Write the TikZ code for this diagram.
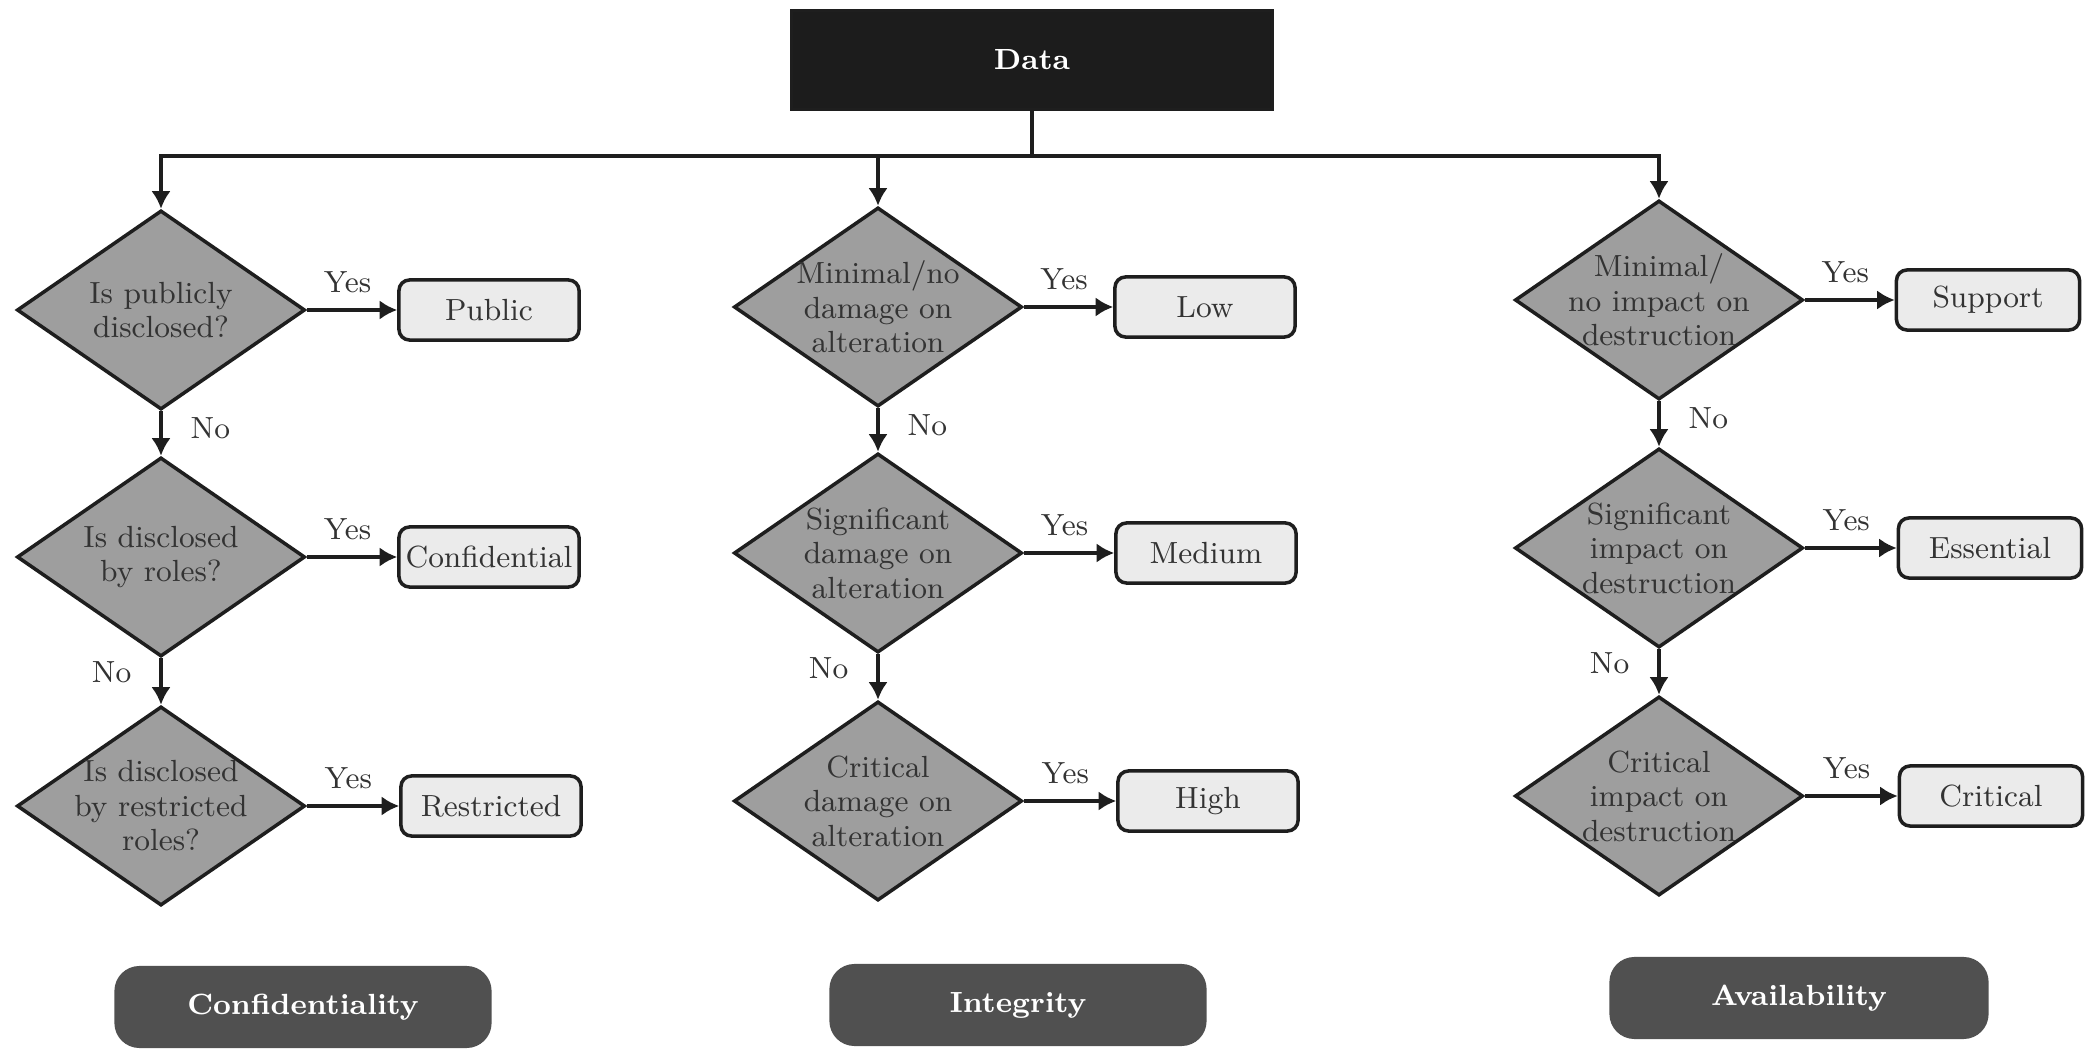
\documentclass[tikz,border=0pt]{standalone}
\usepackage{fontspec}
\usetikzlibrary{shapes.geometric,arrows.meta}
\definecolor{diafill}{HTML}{9E9E9E}
\definecolor{boxfill}{HTML}{EBEBEB}
\definecolor{txtgray}{HTML}{333333}
\definecolor{datafill}{HTML}{1C1C1C}
\definecolor{catfill}{HTML}{505050}
\definecolor{linec}{HTML}{1E1E1E}
\begin{document}
\begin{tikzpicture}[x=0.01cm,y=-0.01cm,
  line width=0.9pt,
  dia/.style={diamond, draw=linec, fill=diafill, line width=1pt,
    minimum width=2.88cm, minimum height=1.99cm, inner sep=0pt},
  dtxt/.style={align=center, text=txtgray, inner sep=0pt,
    font=\fontsize{8.7}{9.8}\selectfont},
  res/.style={rectangle, rounded corners=3pt, draw=linec, fill=boxfill,
    line width=1pt, minimum width=1.8cm, minimum height=0.6cm, inner sep=1pt,
    text=txtgray, font=\fontsize{8.7}{10}\selectfont},
  cat/.style={rectangle, rounded corners=0.25cm, fill=catfill,
    minimum width=3.77cm, minimum height=0.82cm, text=white,
    font=\bfseries\fontsize{8.3}{10}\selectfont},
  databox/.style={rectangle, fill=datafill, draw=linec, minimum width=4.8cm,
    minimum height=0.99cm, text=white, font=\bfseries\fontsize{8.3}{10}\selectfont},
  arr/.style={draw=linec, -{Latex[length=5pt,width=5.5pt]}},
  lbl/.style={text=txtgray, inner sep=0pt, font=\fontsize{8.7}{10}\selectfont}
]
\useasboundingbox (0,0) rectangle (2093,1049);

% top
\node[databox] (data) at (1032,60) {Data};
\coordinate (j) at (1032,156);

% column 1: confidentiality
\node[dia] (c1) at (161,310) {};
\node[dia] (c2) at (161,557) {};
\node[dia] (c3) at (161,806) {};
\node[dtxt] (c1t) at (c1) {Is publicly\\disclosed?};
\node[dtxt] (c2t) at (c2) {Is disclosed\\by roles?};
\node[dtxt] (c3t) at (c3) {Is disclosed\\by restricted\\roles?};
\node[res] (r1) at (489,310) {Public};
\node[res] (r2) at (489,557) {Confidential};
\node[res] (r3) at (491,806) {Restricted};

% column 2: integrity
\node[dia] (i1) at (878,307) {};
\node[dia] (i2) at (878,553) {};
\node[dia] (i3) at (878,801) {};
\node[dtxt] (i1t) at (i1) {Minimal/no\\damage on\\alteration};
\node[dtxt] (i2t) at (i2) {Significant\\damage on\\alteration};
\node[dtxt] (i3t) at (i3) {Critical\\damage on\\alteration};
\node[res] (s1) at (1205,307) {Low};
\node[res] (s2) at (1206,553) {Medium};
\node[res] (s3) at (1208,801) {High};

% column 3: availability
\node[dia] (a1) at (1659,300) {};
\node[dia] (a2) at (1659,548) {};
\node[dia] (a3) at (1659,796) {};
\node[dtxt] (a1t) at (a1) {Minimal/\\no impact on\\destruction};
\node[dtxt] (a2t) at (a2) {Significant\\impact on\\destruction};
\node[dtxt] (a3t) at (a3) {Critical\\impact on\\destruction};
\node[res, minimum width=1.83cm] (t1) at (1988,300) {Support};
\node[res, minimum width=1.83cm] (t2) at (1990,548) {Essential};
\node[res, minimum width=1.83cm] (t3) at (1991,796) {Critical};

% category labels
\node[cat] (cc) at (303,1007) {Confidentiality};
\node[cat] (ci) at (1018,1005) {Integrity};
\node[cat, minimum width=3.79cm] (ca) at (1799,998) {Availability};

% tree connectors
\draw[draw=linec] (data.south) -- (j);
\draw[arr] (j) -| (c1.north);
\draw[arr] (j) -| (a1.north);
\draw[arr] (j -| i1.north) -- (i1.north);

% yes arrows
\foreach \d/\r in {c1/r1,c2/r2,c3/r3,i1/s1,i2/s2,i3/s3,a1/t1,a2/t2,a3/t3}{
  \draw[arr] (\d.east) -- node[lbl, above=4.5pt, pos=0.45] (y\d) {Yes} (\r.west);
}

% no arrows
\draw[arr] (c1.south) -- node[lbl, right=8pt, pos=0.38] (nc1) {No} (c2.north);
\draw[arr] (c2.south) -- node[lbl, left=8pt, pos=0.3] (nc2) {No} (c3.north);
\draw[arr] (i1.south) -- node[lbl, right=8pt, pos=0.38] (ni1) {No} (i2.north);
\draw[arr] (i2.south) -- node[lbl, left=8pt, pos=0.3] (ni2) {No} (i3.north);
\draw[arr] (a1.south) -- node[lbl, right=8pt, pos=0.38] (na1) {No} (a2.north);
\draw[arr] (a2.south) -- node[lbl, left=8pt, pos=0.3] (na2) {No} (a3.north);
\end{tikzpicture}
\end{document}
